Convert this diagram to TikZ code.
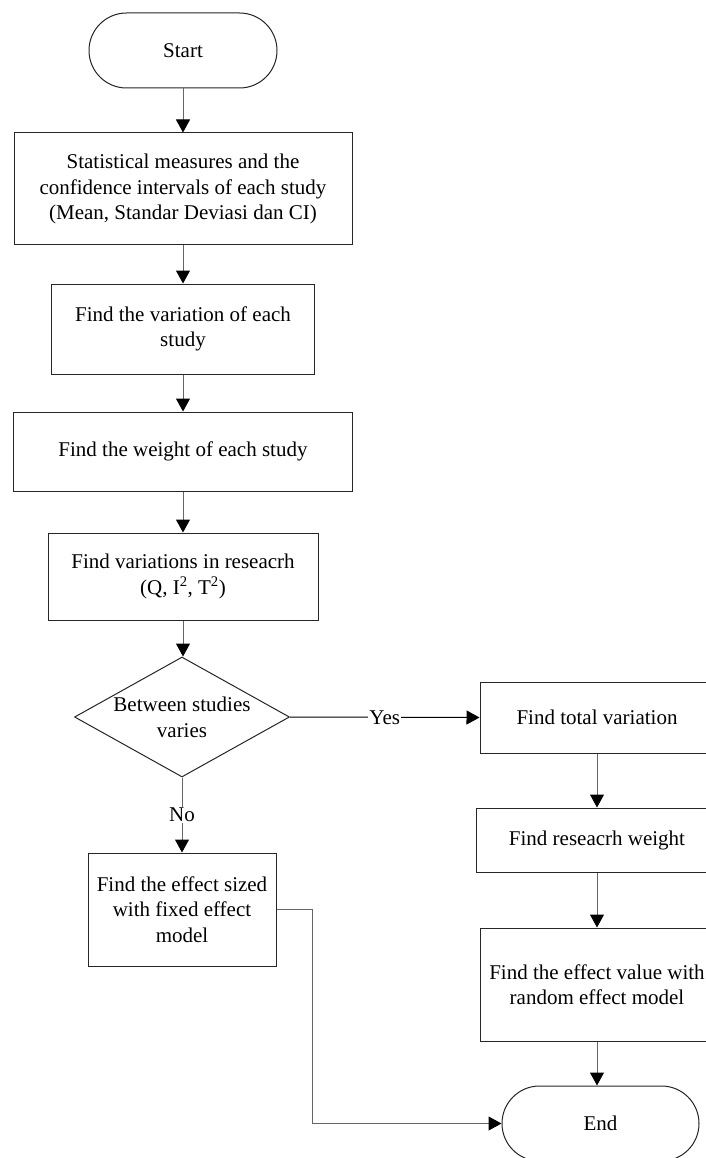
\documentclass[tikz,border=0pt]{standalone}
\usepackage{fontspec}
\setmainfont{Liberation Serif}
\usetikzlibrary{shapes.geometric,shapes.misc,arrows.meta}
\tikzset{
  base/.style={font=\fontsize{21}{25.5}\selectfont, align=center, inner sep=0pt},
  procbox/.style={base, draw=black!85, line width=1pt, rectangle},
  term/.style={base, draw=black!85, line width=1pt, rounded rectangle, minimum width=188pt, minimum height=75pt},
  decbox/.style={draw=black!85, line width=1pt, diamond, inner sep=0pt, minimum width=215pt, minimum height=120pt},
  conn/.style={draw=black!60, line width=1pt, -{Triangle[length=13pt,width=14pt,color=black]}},
  lbl/.style={base, fill=white, inner sep=1pt}
}
\begin{document}
\begin{tikzpicture}[x=1pt,y=-1pt]
\clip (0,0) rectangle (706,1158);
\fill[white] (0,0) rectangle (706,1158);
% left column
\node[term] (start) at (183,50.5) {Start};
\node[procbox, minimum width=338pt, minimum height=112pt] (b1) at (183,189)
  {Statistical measures and the\\confidence intervals of each study\\(Mean, Standar Deviasi dan CI)};
\node[procbox, minimum width=263pt, minimum height=90pt] (b2) at (183,329)
  {Find the variation of each\\study};
\node[procbox, minimum width=339pt, minimum height=79pt] (b3) at (183,451.5)
  {Find the weight of each study};
\node[procbox, minimum width=270pt, minimum height=87pt] (b4) at (183,576.5)
  {Find variations in reseacrh\\(Q, I\textsuperscript{2}, T\textsuperscript{2})};
\node[decbox] (dec) at (182,717) {};
\node[base] (dectext) at (182,717.5) {Between studies\\varies};
\node[procbox, minimum width=188pt, minimum height=113pt] (b8) at (182,909.5)
  {Find the effect sized\\with fixed effect\\model};
% right column
\node[procbox, minimum width=234pt, minimum height=71pt] (b5) at (597,717.5)
  {Find total variation};
\node[procbox, minimum width=242pt, minimum height=64pt] (b6) at (597,840)
  {Find reseacrh weight};
\node[procbox, minimum width=234pt, minimum height=113pt] (b7) at (597,984.5)
  {Find the effect value with\\random effect model};
\node[term, minimum width=197pt] (end) at (600.5,1123.5) {End};
% connectors
\draw[conn] (start) -- (b1);
\draw[conn] (b1) -- (b2);
\draw[conn] (b2) -- (b3);
\draw[conn] (b3) -- (b4);
\draw[conn] (b4.south) -- (b4.south |- dec.north);
\draw[conn, draw=black] (dec.east) -- node[lbl] {Yes} (b5.west);
\draw[conn] (dec.south) -- node[lbl] {No} (b8.north);
\draw[conn] (b5.south -| 597,0) -- (b6.north -| 597,0);
\draw[conn] (b6.south -| 597,0) -- (b7.north -| 597,0);
\draw[conn] (b7.south -| 597,0) -- (end.north -| 597,0);
\draw[conn] (b8.east) -- ++(36,0) |- (end.west);
\end{tikzpicture}
\end{document}
